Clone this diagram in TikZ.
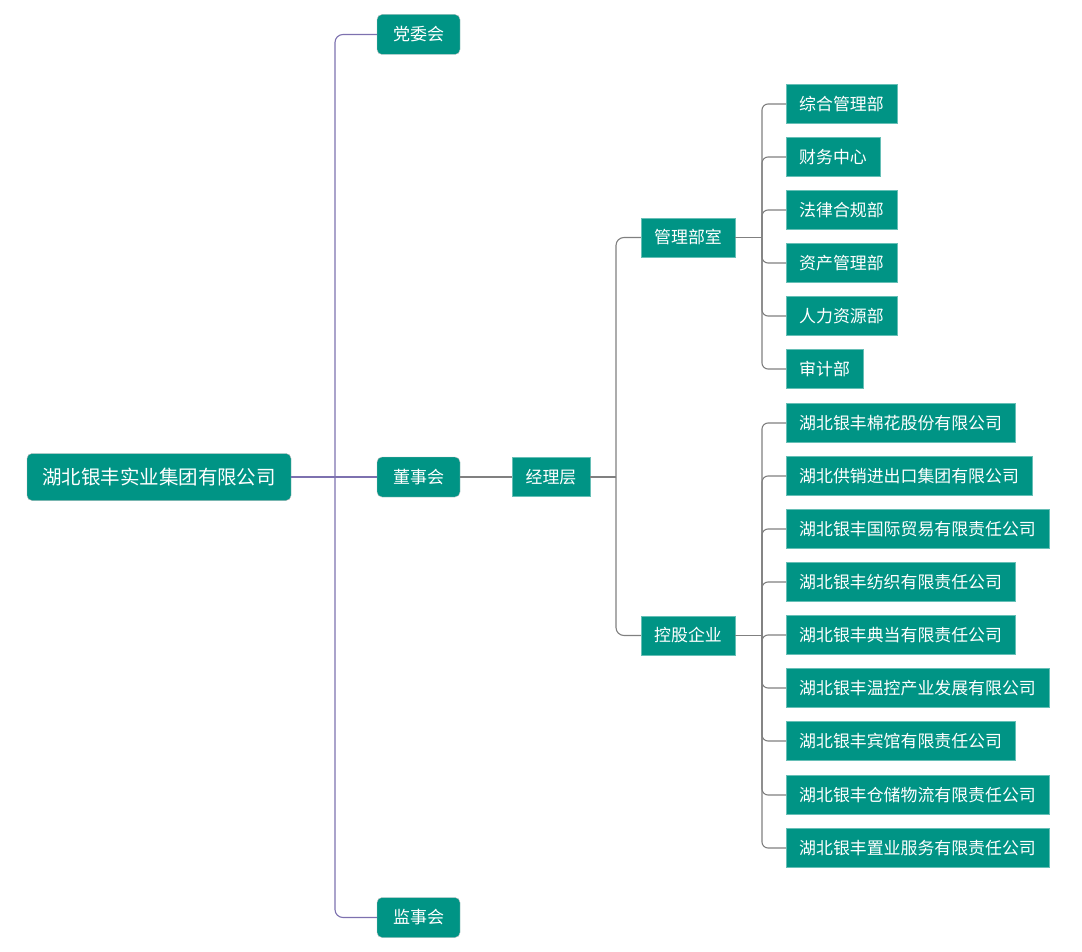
\documentclass[tikz,border=0pt]{standalone}
\usepackage{fontspec}
\newfontfamily\cjk{Noto Sans CJK SC}
\usetikzlibrary{positioning,calc}

\definecolor{teal}{RGB}{0,148,133}
\definecolor{linepurple}{RGB}{125,113,175}
\definecolor{linegray}{RGB}{128,128,128}

\begin{document}
\begin{tikzpicture}[x=1pt, y=-1pt, font=\cjk, text=white]

%local definitions
\tikzstyle{Root} = [draw=black!30, fill=teal, rounded corners=5pt, minimum height=47pt, minimum width=264pt, font=\cjk\fontsize{19.5}{22}\selectfont]
\tikzstyle{Board} = [draw=black!25, fill=teal, rounded corners=5pt, minimum height=40pt, minimum width=83pt, font=\cjk\fontsize{17}{20}\selectfont]
\tikzstyle{Dept} = [draw=teal!60, fill=teal, rectangle, minimum height=39pt, inner xsep=13pt, font=\cjk\fontsize{16.9}{20}\selectfont]
\tikzstyle{Leaf} = [Dept, anchor=west]
\tikzstyle{TopLine} = [draw=linepurple, line width=1.1pt, rounded corners=8pt]
\tikzstyle{SubLine} = [draw=linegray, line width=1.1pt, rounded corners=8pt]

\useasboundingbox (0,0) rectangle (1082,952);

%main nodes
	\node [Root] (Company) at (159,477) {湖北银丰实业集团有限公司};
	\node [Board] (Party) at (418.5,34.5) {党委会};
	\node [Board] (Directors) at (418.5,477) {董事会};
	\node [Board] (Supervisors) at (418.5,917.5) {监事会};
	\node [Dept, minimum width=78pt] (Managers) at (551,477) {经理层};
	\node [Dept, minimum width=94pt] (Offices) at (688,237.5) {管理部室};
	\node [Dept, minimum width=94pt] (Holdings) at (688,635.5) {控股企业};

	%offices
	\node [Leaf] (General) at (786,104) {综合管理部};
	\node [Leaf] (Finance) at (786,157) {财务中心};
	\node [Leaf] (Legal) at (786,210) {法律合规部};
	\node [Leaf] (Assets) at (786,263) {资产管理部};
	\node [Leaf] (HR) at (786,316) {人力资源部};
	\node [Leaf] (Audit) at (786,369) {审计部};

	%holdings
	\node [Leaf] (Cotton) at (786,423) {湖北银丰棉花股份有限公司};
	\node [Leaf] (Trade) at (786,476) {湖北供销进出口集团有限公司};
	\node [Leaf] (Intl) at (786,529) {湖北银丰国际贸易有限责任公司};
	\node [Leaf] (Textile) at (786,582) {湖北银丰纺织有限责任公司};
	\node [Leaf] (Pawn) at (786,635) {湖北银丰典当有限责任公司};
	\node [Leaf] (Thermo) at (786,688) {湖北银丰温控产业发展有限公司};
	\node [Leaf] (Hotel) at (786,741) {湖北银丰宾馆有限责任公司};
	\node [Leaf] (Storage) at (786,795) {湖北银丰仓储物流有限责任公司};
	\node [Leaf] (Estate) at (786,848) {湖北银丰置业服务有限责任公司};

	\coordinate (TopJoint) at (335,477);
	\coordinate (MgrJoint) at (616,477);
	\coordinate (OffJoint) at (762,237.5);
	\coordinate (HoldJoint) at (762,635.5);

%connections
	\draw [TopLine] (Company) -- (Directors);
	\draw [TopLine] (TopJoint) |- (Party);
	\draw [TopLine] (TopJoint) |- (Supervisors);

	\draw [SubLine] (Directors) -- (Managers);
	\draw [SubLine] (Managers) -- (MgrJoint);
	\draw [SubLine] (MgrJoint) |- (Offices);
	\draw [SubLine] (MgrJoint) |- (Holdings);

	\draw [SubLine, line width=1.6pt] (Offices) -- (OffJoint);
	\foreach \n in {General,Finance,Legal,Assets,HR,Audit}
		\draw [SubLine, rounded corners=6pt] (OffJoint) |- (\n.west);

	\draw [SubLine, line width=1.6pt] (Holdings) -- (HoldJoint);
	\foreach \n in {Cotton,Trade,Intl,Textile,Pawn,Thermo,Hotel,Storage,Estate}
		\draw [SubLine, rounded corners=6pt] (HoldJoint) |- (\n.west);

\end{tikzpicture}
\end{document}
